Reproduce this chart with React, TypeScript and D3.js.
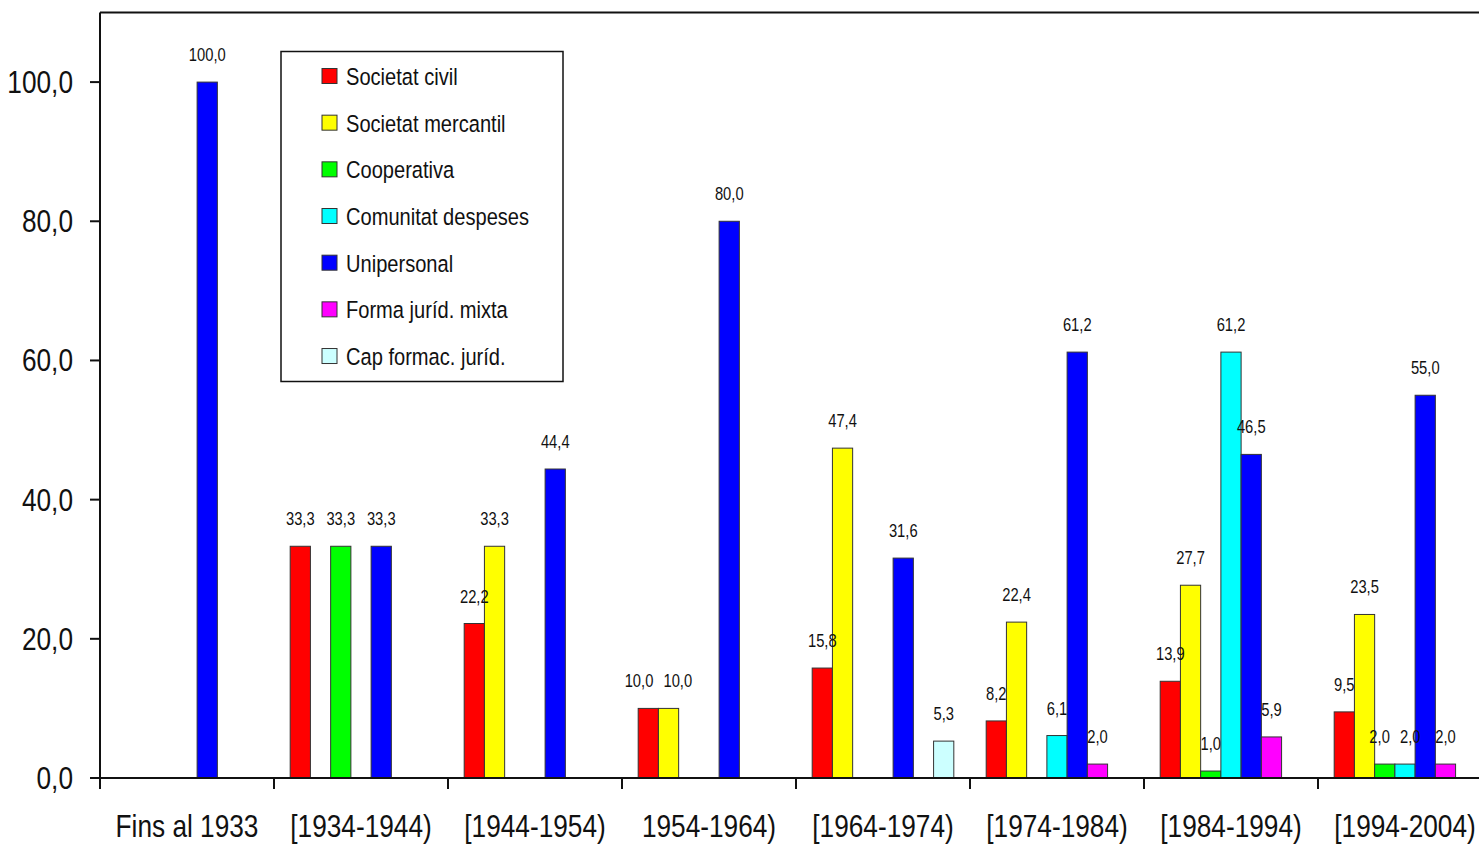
import { FC, useMemo } from 'react';
import * as d3 from 'd3';

const categories = ['Fins al 1933', '[1934-1944)', '[1944-1954)', '1954-1964)', '[1964-1974)', '[1974-1984)', '[1984-1994)', '[1994-2004)'];
const seriesNames = ['Societat civil', 'Societat mercantil', 'Cooperativa', 'Comunitat despeses', 'Unipersonal', 'Forma juríd. mixta', 'Cap formac. juríd.'];
const seriesColors = ['#ff0000', '#ffff00', '#00ff00', '#00ffff', '#0000ff', '#ff00ff', '#ccffff'];

// one array per series, one value per category (0 = no bar)
const societatCivil = [0, 33.3, 22.2, 10.0, 15.8, 8.2, 13.9, 9.5];
const societatMercantil = [0, 0, 33.3, 10.0, 47.4, 22.4, 27.7, 23.5];
const cooperativa = [0, 33.3, 0, 0, 0, 0, 1.0, 2.0];
const comunitatDespeses = [0, 0, 0, 0, 0, 6.1, 61.2, 2.0];
const unipersonal = [100.0, 33.3, 44.4, 80.0, 31.6, 61.2, 46.5, 55.0];
const formaMixta = [0, 0, 0, 0, 0, 2.0, 5.9, 2.0];
const capFormac = [0, 0, 0, 0, 5.3, 0, 0, 0];
const yTicks = [0, 20, 40, 60, 80, 100];

const seriesValues = [societatCivil, societatMercantil, cooperativa, comunitatDespeses, unipersonal, formaMixta, capFormac];

const W = 1479;
const H = 844;
const MARGIN = { top: 12.5, left: 100, bottom: 66 };
const STEP = 174;
// no Arial Narrow installed: squeeze Liberation Sans horizontally instead
const FONT = "'Liberation Sans', Arial, sans-serif";
const SQUEEZE = 0.82;
const fmt = (v: number) => v.toFixed(1).replace('.', ',');

const NText: FC<{ x: number; y: number; size: number; anchor?: string; children: string }> = ({ x, y, size, anchor = 'start', children }) => (
  <text transform={`translate(${x},${y}) scale(${SQUEEZE},1)`} fontSize={size} textAnchor={anchor} fill="#111">
    {children}
  </text>
);

const App: FC = () => {
  const plotRight = MARGIN.left + STEP * categories.length;
  const plotBottom = H - MARGIN.bottom;

  const x0 = useMemo(() => d3.scaleBand<string>().domain(categories).range([MARGIN.left, plotRight]).padding(0), [plotRight]);
  const x1 = useMemo(() => d3.scaleBand<string>().domain(seriesNames).range([0, x0.bandwidth()]).paddingInner(0).paddingOuter(0.8), [x0]);
  const y = useMemo(() => d3.scaleLinear().domain([0, 110]).range([plotBottom, MARGIN.top]), [plotBottom]);

  const bars = categories.flatMap((c, ci) =>
    seriesNames.map((s, si) => ({ s, c, v: seriesValues[si][ci], color: seriesColors[si] }))
  ).filter(d => d.v > 0);

  // label positions, nudged apart where neighbours collide
  const labels = bars.map(d => ({
    key: d.s + d.c,
    c: d.c,
    text: fmt(d.v),
    x: (x0(d.c) ?? 0) + (x1(d.s) ?? 0) + x1.bandwidth() / 2,
    y: y(d.v) - 21,
    w: fmt(d.v).length * 8.2,
  }));
  for (let i = 1; i < labels.length; i++) {
    const a = labels[i - 1];
    const b = labels[i];
    if (a.c !== b.c || Math.abs(a.y - b.y) > 17) continue;
    const need = (a.w + b.w) / 2 + 6 - (b.x - a.x);
    if (need > 0) {
      a.x -= need / 2;
      b.x += need / 2;
    }
  }

  return (
    <svg width={W} height={H} style={{ position: 'absolute', left: 0, top: 0, background: '#fff' }} fontFamily={FONT}>
      {/* bars */}
      {bars.map(d => (
        <rect
          key={d.s + d.c}
          x={(x0(d.c) ?? 0) + (x1(d.s) ?? 0)}
          y={y(d.v)}
          width={x1.bandwidth()}
          height={plotBottom - y(d.v)}
          fill={d.color}
          stroke="#333"
          strokeWidth={1}
        />
      ))}
      {labels.map(l => (
        <NText key={'l' + l.key} x={l.x} y={l.y} size={18} anchor="middle">{l.text}</NText>
      ))}

      {/* axes */}
      <line x1={MARGIN.left} x2={W} y1={MARGIN.top} y2={MARGIN.top} stroke="#111" strokeWidth={2} />
      <line x1={MARGIN.left} x2={MARGIN.left} y1={MARGIN.top} y2={plotBottom + 11} stroke="#111" strokeWidth={2} />
      <line x1={MARGIN.left - 10} x2={W} y1={plotBottom} y2={plotBottom} stroke="#111" strokeWidth={2} />
      {yTicks.map(t => (
        <g key={t}>
          <line x1={MARGIN.left - 10} x2={MARGIN.left} y1={y(t)} y2={y(t)} stroke="#111" strokeWidth={2} />
          <NText x={MARGIN.left - 27} y={y(t) + 11} size={32} anchor="end">{fmt(t)}</NText>
        </g>
      ))}
      {categories.map(c => (
        <g key={c}>
          <line x1={x0(c)} x2={x0(c)} y1={plotBottom} y2={plotBottom + 11} stroke="#111" strokeWidth={2} />
          <NText x={(x0(c) ?? 0) + STEP / 2} y={plotBottom + 59} size={32} anchor="middle">{c}</NText>
        </g>
      ))}

      {/* legend */}
      <g transform="translate(281,51.5)">
        <rect x={0} y={0} width={282} height={330} fill="#fff" stroke="#111" strokeWidth={1.5} />
        {seriesNames.map((s, i) => (
          <g key={s} transform={`translate(41,${17 + i * 46.67})`}>
            <rect x={0} y={0} width={15} height={15} fill={seriesColors[i]} stroke="#333" strokeWidth={1} />
            <NText x={24} y={16.5} size={24.5}>{s}</NText>
          </g>
        ))}
      </g>
    </svg>
  );
};

export default App;
